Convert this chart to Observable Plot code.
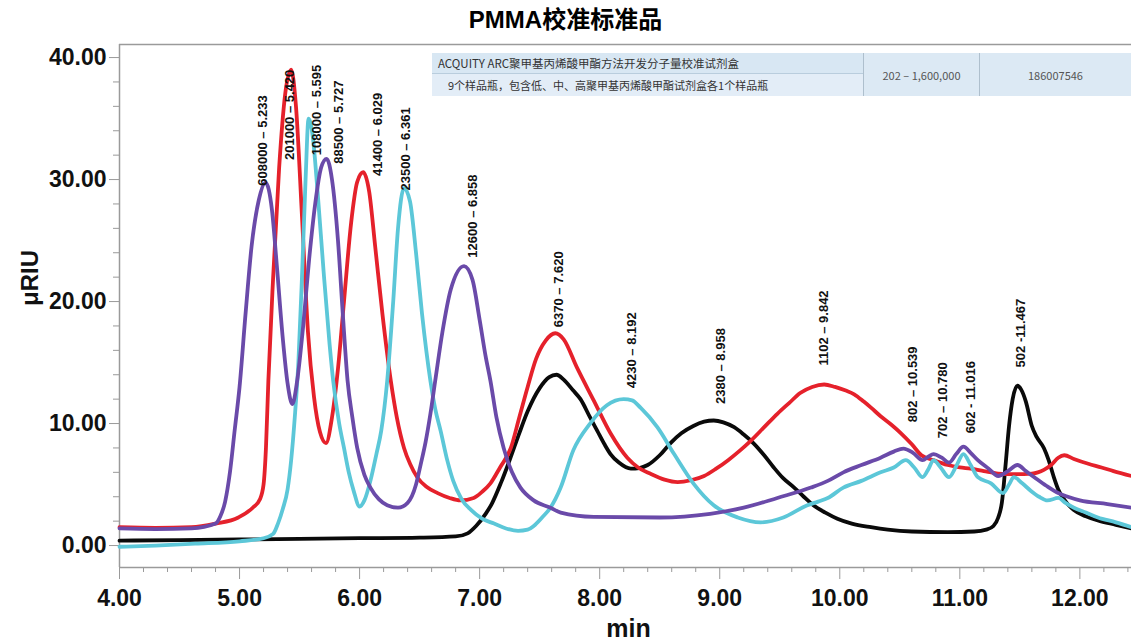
<!DOCTYPE html>
<html>
<head>
<meta charset="utf-8">
<script src="https://cdn.jsdelivr.net/npm/d3@7"></script>
<script src="https://cdn.jsdelivr.net/npm/@observablehq/plot@0.6"></script>
<style>
  html, body { margin: 0; padding: 0; background: #fff; }
  body { width: 1131px; height: 641px; overflow: hidden; position: relative; font-family: "Liberation Sans", Arial, sans-serif; }
  #title { position: absolute; left: 0; top: 3px; width: 1131px; text-align: center; font-weight: bold; font-size: 24px; line-height: 34px; font-family: "Liberation Sans", "Noto Sans CJK SC", sans-serif; color: #000; }
  #chart { position: absolute; left: 0; top: 36px; }
  .cell { position: absolute; box-sizing: border-box; color: #333; font-family: "Noto Sans CJK SC", "Liberation Sans", sans-serif; font-size: 11px; white-space: nowrap; display: flex; align-items: center; }
</style>
</head>
<body>
<div id="title">PMMA校准标准品</div>
<div id="chart"></div>
<div id="tbl"></div>
<script>
// ---------- data ----------
const blackT = [4.0,4.5,5.0,5.5,6.0,6.5,6.8,6.9,6.97,7.05,7.1,7.18,7.25,7.33,7.4,7.5,7.58,7.64,7.7,7.78,7.84,7.92,7.98,8.04,8.09,8.16,8.26,8.33,8.4,8.5,8.59,8.68,8.78,8.87,8.95,9.03,9.12,9.2,9.28,9.37,9.45,9.53,9.62,9.7,9.78,9.88,9.98,10.1,10.26,10.4,10.6,10.9,11.12,11.22,11.28,11.32,11.35,11.38,11.41,11.44,11.48,11.51,11.55,11.6,11.64,11.7,11.74,11.78,11.82,11.86,11.95,12.05,12.15,12.3,12.43];
const blackV = [0.4,0.45,0.5,0.55,0.6,0.65,0.75,1.0,1.6,2.6,3.4,5.2,7.0,9.2,11.0,12.9,13.8,14.0,13.6,12.7,12.0,10.5,9.4,8.3,7.5,6.8,6.3,6.35,6.6,7.4,8.4,9.2,9.8,10.15,10.25,10.1,9.7,9.1,8.4,7.4,6.4,5.5,4.75,4.0,3.3,2.7,2.2,1.8,1.5,1.3,1.15,1.1,1.15,1.3,1.6,2.3,3.5,6.5,9.8,12.0,13.1,12.8,11.8,9.8,8.9,8.0,7.0,5.7,4.6,3.9,2.9,2.4,2.05,1.7,1.4];

const redT = [4.0,4.3,4.6,4.8,4.99,5.11,5.17,5.2,5.22,5.24,5.28,5.33,5.38,5.43,5.47,5.52,5.57,5.62,5.67,5.72,5.77,5.82,5.87,5.93,5.98,6.03,6.08,6.13,6.19,6.26,6.31,6.37,6.42,6.48,6.56,6.65,6.75,6.84,6.95,7.02,7.09,7.17,7.26,7.33,7.4,7.47,7.55,7.63,7.7,7.81,7.95,8.09,8.23,8.32,8.42,8.54,8.65,8.76,8.87,8.97,9.07,9.17,9.26,9.37,9.48,9.58,9.67,9.77,9.87,9.96,10.05,10.12,10.2,10.26,10.34,10.43,10.51,10.6,10.68,10.78,10.9,11.0,11.09,11.2,11.32,11.45,11.6,11.65,11.7,11.76,11.82,11.87,11.95,12.07,12.18,12.28,12.43];
const redV = [1.5,1.45,1.5,1.8,2.3,3.1,3.8,5.0,8.0,13.5,22,31,37,39.0,36,27,17.5,12.2,9.3,8.4,10.5,14.5,20,26.5,29.8,30.6,29.0,24.5,19,13.5,10.5,8.0,6.7,5.6,4.8,4.3,3.9,3.7,3.9,4.4,5.1,6.4,8.0,10.5,13.0,15.3,16.8,17.4,16.9,14.6,11.9,9.2,7.2,6.4,5.9,5.4,5.2,5.35,5.7,6.3,7.0,7.8,8.6,9.7,10.8,11.7,12.5,13.0,13.2,13.0,12.7,12.4,11.8,11.3,10.6,9.9,9.2,8.3,7.4,7.0,6.6,6.4,6.3,6.1,5.9,5.85,5.9,6.0,6.2,6.6,7.2,7.4,7.1,6.7,6.4,6.1,5.7];

const cyanT = [4.0,4.3,4.63,5.0,5.2,5.28,5.32,5.36,5.4,5.43,5.46,5.49,5.52,5.55,5.575,5.61,5.65,5.7,5.75,5.78,5.83,5.87,5.91,5.95,6.0,6.04,6.09,6.14,6.18,6.23,6.28,6.32,6.37,6.42,6.47,6.52,6.59,6.63,6.675,6.73,6.78,6.85,6.93,7.02,7.12,7.22,7.32,7.4,7.45,7.52,7.59,7.675,7.78,7.92,8.06,8.2,8.27,8.34,8.48,8.62,8.78,8.95,9.15,9.34,9.53,9.73,9.82,9.9,10.03,10.18,10.34,10.45,10.55,10.62,10.69,10.74,10.78,10.84,10.91,10.97,11.03,11.09,11.15,11.26,11.36,11.41,11.45,11.52,11.59,11.66,11.73,11.82,11.88,11.95,12.05,12.15,12.3,12.43];
const cyanV = [-0.1,0.0,0.15,0.35,0.6,0.95,1.8,3.0,4.6,7.0,10.5,15,22,30,35.0,33.5,29,22.5,16.5,13.5,10,8.0,6.0,4.5,3.2,3.7,5.3,7.5,9.4,13.5,20,26,29.3,28.2,24,19,13.5,11.2,9.4,7.0,5.3,3.8,2.9,2.2,1.8,1.4,1.2,1.3,1.6,2.3,3.1,4.75,7.8,10.0,11.5,12.0,11.9,11.3,9.7,7.5,5.1,3.3,2.3,1.9,2.3,3.3,3.6,3.9,4.75,5.3,6.0,6.4,7.0,6.4,5.6,6.3,7.0,6.4,5.6,6.5,7.5,6.6,5.6,5.1,4.3,5.0,5.6,5.1,4.5,4.0,3.7,3.9,3.5,3.1,2.7,2.3,1.9,1.5];

const purpleT = [4.0,4.3,4.6,4.8,4.84,4.88,4.92,4.96,5.0,5.05,5.1,5.16,5.217,5.27,5.31,5.36,5.4,5.44,5.48,5.53,5.58,5.63,5.68,5.725,5.77,5.82,5.86,5.9,5.94,5.98,6.04,6.09,6.16,6.23,6.32,6.4,6.47,6.51,6.55,6.59,6.63,6.69,6.76,6.87,6.94,7.0,7.05,7.09,7.14,7.2,7.27,7.34,7.45,7.59,7.675,7.95,8.5,8.92,9.2,9.48,9.76,9.9,10.03,10.18,10.34,10.45,10.53,10.61,10.69,10.74,10.78,10.85,10.91,10.97,11.03,11.09,11.15,11.24,11.32,11.4,11.48,11.55,11.62,11.72,11.82,11.9,12.0,12.23,12.43];
const purpleV = [1.4,1.35,1.4,1.8,2.4,3.6,6.0,9.5,13.0,19,24.5,28.3,29.75,27.5,23,17,13.3,11.6,13.5,18,23.5,28,31,31.7,30,25,19,13.5,10.5,8.0,5.8,4.75,3.8,3.3,3.1,3.5,5.0,6.7,8.5,10.8,13.5,17.5,21.0,22.9,21.8,18.5,15.5,13.5,10.5,8.0,6.0,4.75,3.7,3.1,2.7,2.35,2.3,2.6,3.1,3.9,4.75,5.3,6.0,6.6,7.2,7.7,7.95,7.6,7.0,7.3,7.5,7.2,6.8,7.5,8.1,7.6,7.0,6.3,5.7,6.1,6.6,6.1,5.6,4.9,4.3,4.0,3.7,3.4,3.1];

const peakLabels = ["608000 – 5.233","201000 – 5.420","108000 – 5.595","88500 – 5.727","41400 – 6.029","23500 – 6.361","12600 – 6.858","6370 – 7.620","4230 – 8.192","2380 – 8.958","1102 – 9.842","802 – 10.539","702 – 10.780","602 - 11.016","502 -11.467"];
const peakLabelT = [5.19,5.415,5.64,5.825,6.15,6.383,6.942,7.658,8.267,9.008,9.867,10.608,10.858,11.092,11.508];
const peakLabelV = [29.5,31.6,32.0,31.3,30.3,29.1,23.6,17.9,12.9,11.6,14.75,10.1,8.8,9.2,14.6];

const xMajorTicks = [4,5,6,7,8,9,10,11,12];
const yMajorTicks = [0,10,20,30,40];
const yMinorTicks = [2,4,6,8,12,14,16,18,22,24,26,28,32,34,36,38];

const tableRow1 = "ACQUITY ARC聚甲基丙烯酸甲酯方法开发分子量校准试剂盒";
const tableRow2 = "9个样品瓶，包含低、中、高聚甲基丙烯酸甲酯试剂盒各1个样品瓶";
const tableRange = "202 – 1,600,000";
const tablePart = "186007546";

// ---------- build ----------
const toRows = (T, V) => T.map((t, i) => ({t, v: V[i]}));
const black = toRows(blackT, blackV);
const red = toRows(redT, redV);
const cyan = toRows(cyanT, cyanV);
const purple = toRows(purpleT, purpleV);
const labels = peakLabels.map((s, i) => ({s, t: peakLabelT[i], v: peakLabelV[i]}));

const xMin = 4, xMax = 12.43, yMin = -1.8, yMax = 41.07;
const xMinorTicks = d3.range(0, 43).map(i => +(4 + i * 0.2).toFixed(1)).filter(d => d <= xMax && Math.abs(d - Math.round(d)) > 1e-6);
const grey = "#9a9a9a";
const lineOpts = {x: "t", y: "v", curve: "monotone-x", strokeWidth: 3.8, strokeLinejoin: "round", strokeLinecap: "round"};

const chart = Plot.plot({
  width: 1131,
  height: 605,
  marginTop: 8,
  marginBottom: 74,
  marginLeft: 119,
  marginRight: 0,
  x: {domain: [xMin, xMax]},
  y: {domain: [yMin, yMax]},
  style: {fontFamily: "'Liberation Sans', Arial, sans-serif", background: "transparent", overflow: "visible"},
  marks: [
    Plot.ruleY([yMax], {stroke: grey, strokeWidth: 1.5}),
    Plot.ruleY([yMin], {stroke: grey, strokeWidth: 1.5}),
    Plot.ruleX([xMin], {stroke: grey, strokeWidth: 1.5}),
    Plot.axisY({ticks: yMajorTicks, tickSize: 10, tickPadding: 3, tickFormat: ".2f", fontSize: 23, fontWeight: "bold", stroke: grey, fill: "#111", label: null}),
    Plot.axisY({ticks: yMinorTicks, tickSize: 6, tickFormat: () => "", stroke: grey, label: null}),
    Plot.axisX({ticks: xMajorTicks, tickSize: 12, tickPadding: 10, tickFormat: ".2f", fontSize: 23, fontWeight: "bold", stroke: grey, fill: "#111", label: null}),
    Plot.axisX({ticks: xMinorTicks, tickSize: 5, tickFormat: () => "", stroke: grey, label: null}),
    Plot.line(black, {...lineOpts, stroke: "#0a0a0a"}),
    Plot.line(red, {...lineOpts, stroke: "#e5212b"}),
    Plot.line(cyan, {...lineOpts, stroke: "#5cc7d8"}),
    Plot.line(purple, {...lineOpts, stroke: "#6a4aa9"}),
    Plot.text(labels, {x: "t", y: "v", text: "s", rotate: -90, textAnchor: "start", lineAnchor: "middle", fontSize: 13, fontWeight: "bold", fill: "#111"}),
    Plot.text(["μRIU"], {text: d => d, frameAnchor: "left", dx: -89, rotate: -90, fontSize: 24, fontWeight: "bold", fill: "#111"}),
    Plot.text(["min"], {text: d => d, frameAnchor: "bottom", dx: 3, dy: 61, lineAnchor: "middle", fontSize: 25, fontWeight: "bold", fill: "#111"})
  ]
});
document.getElementById("chart").appendChild(chart);

// table annotation
const tbl = document.getElementById("tbl");
const cells = [
  {l: 432, t: 53, w: 431, h: 21, bg: "#d8e7f3", text: tableRow1, pad: "0 0 0 6px", just: "flex-start", bb: true, fs: 11.5},
  {l: 432, t: 74, w: 431, h: 22, bg: "#e3edf7", text: tableRow2, pad: "0 0 0 16px", just: "flex-start", fs: 11},
  {l: 863, t: 53, w: 116, h: 43, bg: "#dce9f4", text: tableRange, pad: "0", just: "center", bl: true, fs: 11},
  {l: 979, t: 53, w: 152, h: 43, bg: "#dce9f4", text: tablePart, pad: "0", just: "center", bl: true, fs: 11}
];
for (const c of cells) {
  const d = document.createElement("div");
  d.className = "cell";
  d.style.left = c.l + "px"; d.style.top = c.t + "px";
  d.style.width = c.w + "px"; d.style.height = c.h + "px";
  d.style.background = c.bg; d.style.padding = c.pad; d.style.justifyContent = c.just;
  d.style.fontSize = c.fs + "px";
  if (c.bb) d.style.borderBottom = "1px solid #b9cddd";
  if (c.bl) { d.style.borderLeft = "1px solid #aebfcd"; d.style.color = "#555"; }
  d.textContent = c.text;
  tbl.appendChild(d);
}
</script>
</body>
</html>
